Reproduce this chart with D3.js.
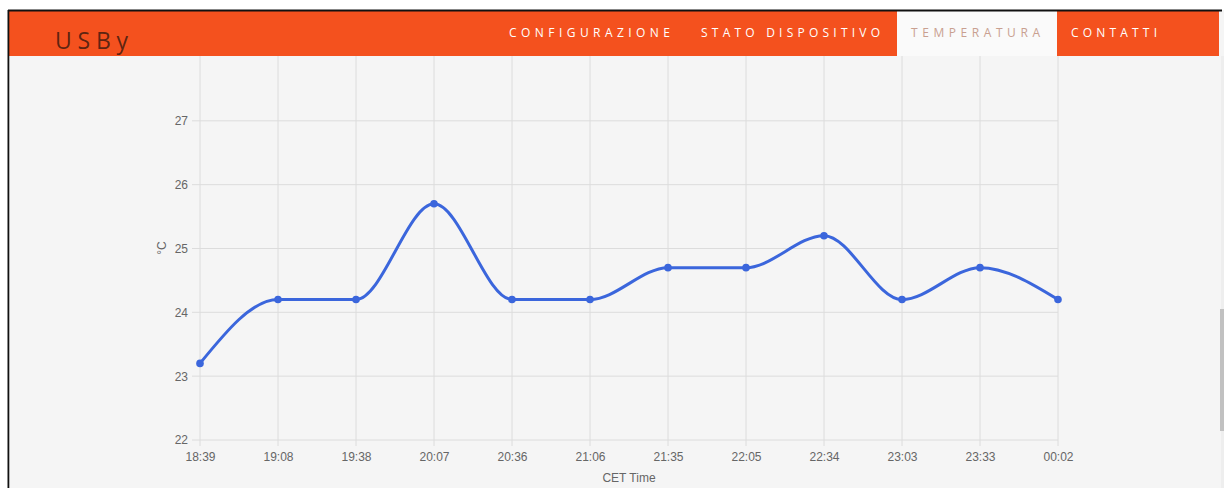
<!DOCTYPE html>
<html>
<head>
<meta charset="utf-8">
<script src="https://cdn.jsdelivr.net/npm/d3@7"></script>
<style>
  html, body { margin: 0; padding: 0; background: #ffffff; }
  svg { display: block; }
</style>
</head>
<body>
<svg id="chart" width="1224" height="488"></svg>
<script>
const times = ["18:39","19:08","19:38","20:07","20:36","21:06","21:35","22:05","22:34","23:03","23:33","00:02"];
const temps = [23.2, 24.2, 24.2, 25.7, 24.2, 24.2, 24.7, 24.7, 25.2, 24.2, 24.7, 24.2];
const yTicks = [22, 23, 24, 25, 26, 27];
const navItems = ["CONFIGURAZIONE", "STATO DISPOSITIVO", "TEMPERATURA", "CONTATTI"];
const brand = "USBy";
const xTitle = "CET Time";
const yTitle = "°C";

const svg = d3.select("#chart");
const W = 1224, H = 488;

// page background
svg.append("rect").attr("x", 9).attr("y", 10).attr("width", W - 9).attr("height", H - 10).attr("fill", "#f5f5f5");

const x = d3.scalePoint().domain(times).range([200, 1058]);
const y = d3.scaleLinear().domain([22, 28]).range([440, 57]);

const g = svg.append("g");
// vertical grid
g.append("g").selectAll("line").data(times).join("line")
  .attr("x1", d => x(d)).attr("x2", d => x(d))
  .attr("y1", 50).attr("y2", 446)
  .attr("stroke", "#dcdcdc").attr("stroke-width", 1);
// horizontal grid
g.append("g").selectAll("line").data(yTicks).join("line")
  .attr("x1", 192).attr("x2", 1058)
  .attr("y1", d => y(d)).attr("y2", d => y(d))
  .attr("stroke", "#dcdcdc").attr("stroke-width", 1);

const xAxis = g.append("g").attr("transform", "translate(0,440)")
  .call(d3.axisBottom(x).tickSize(0).tickPadding(12));
xAxis.select(".domain").remove();
xAxis.selectAll("text").attr("fill", "#666").style("font-family", "'Liberation Sans', Arial, sans-serif").style("font-size", "12px");

const yAxis = g.append("g").attr("transform", "translate(192,0)")
  .call(d3.axisLeft(y).tickValues(yTicks).tickSize(0).tickPadding(4).tickFormat(d3.format("d")));
yAxis.select(".domain").remove();
yAxis.selectAll("text").attr("fill", "#666").style("font-family", "'Liberation Sans', Arial, sans-serif").style("font-size", "12px");

g.append("text").attr("x", 629).attr("y", 482).attr("text-anchor", "middle")
  .attr("fill", "#666").style("font-family", "'Liberation Sans', Arial, sans-serif").style("font-size", "12px")
  .text(xTitle);
g.append("text").attr("transform", "translate(166,248) rotate(-90)").attr("text-anchor", "middle")
  .attr("fill", "#666").style("font-family", "'Liberation Sans', Arial, sans-serif").style("font-size", "12px")
  .text(yTitle);

// line
const data = times.map((t, i) => ({t, v: temps[i]}));
const line = d3.line().x(d => x(d.t)).y(d => y(d.v)).curve(d3.curveMonotoneX);
g.append("path").datum(data).attr("d", line)
  .attr("fill", "none").attr("stroke", "#3b66dc").attr("stroke-width", 3);
g.append("g").selectAll("circle").data(data).join("circle")
  .attr("cx", d => x(d.t)).attr("cy", d => y(d.v)).attr("r", 3.8)
  .attr("fill", "#3b66dc");

// header
const hdr = svg.append("g");
hdr.append("rect").attr("x", 9).attr("y", 11).attr("width", 1210).attr("height", 45).attr("fill", "#f4511e");
hdr.append("rect").attr("x", 897).attr("y", 11).attr("width", 160).attr("height", 45).attr("fill", "#fafafa");
hdr.append("rect").attr("x", 8).attr("y", 9.5).attr("width", 1214).attr("height", 2).attr("fill", "#111");
svg.append("rect").attr("x", 7.5).attr("y", 10).attr("width", 1.8).attr("height", H - 10).attr("fill", "#111");

hdr.append("text").attr("x", 55).attr("y", 49)
  .attr("fill", "#4a1e10").attr("fill-opacity", 0.9)
  .style("font-family", "'Open Sans', Lato, sans-serif").style("font-size", "23px")
  .attr("textLength", 73).attr("lengthAdjust", "spacing")
  .text(brand);

const navPos = [[509, 161, "#ffffff"], [701, 179, "#ffffff"], [911, 129, "#c9a090"], [1071, 86, "#ffffff"]];
hdr.selectAll("text.nav").data(navItems).join("text").attr("class", "nav")
  .attr("x", (d, i) => navPos[i][0]).attr("y", 37)
  .attr("fill", (d, i) => navPos[i][2])
  .style("font-family", "'Open Sans', Lato, sans-serif").style("font-size", "12px")
  .attr("textLength", (d, i) => navPos[i][1]).attr("lengthAdjust", "spacing")
  .text(d => d);

// right scrollbar strip
svg.append("rect").attr("x", 1221).attr("y", 56).attr("width", 3).attr("height", H - 56).attr("fill", "#eeeeee");
svg.append("rect").attr("x", 1220).attr("y", 309).attr("width", 4).attr("height", 122).attr("fill", "#c1c1c1");
</script>
</body>
</html>
